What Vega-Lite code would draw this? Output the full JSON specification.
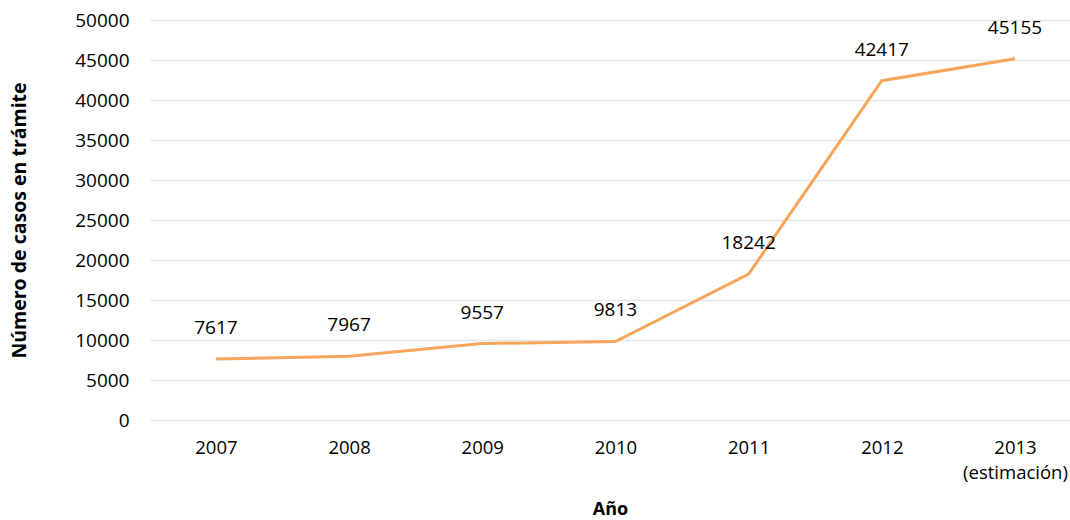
{
  "$schema": "https://vega.github.io/schema/vega-lite/v6.json",
  "autosize": {"type": "none"},
  "width": 920,
  "height": 400,
  "padding": {"left": 150, "top": 20, "right": 0, "bottom": 100},
  "background": "white",
  "config": {
    "view": {"stroke": null},
    "font": "Open Sans",
    "axis": {"labelFont": "Open Sans", "titleFont": "Open Sans", "labelColor": "#000000", "titleColor": "#000000"}
  },
  "data": {
    "values": [
      {"year": "2007", "casos": 7617},
      {"year": "2008", "casos": 7967},
      {"year": "2009", "casos": 9557},
      {"year": "2010", "casos": 9813},
      {"year": "2011", "casos": 18242},
      {"year": "2012", "casos": 42417},
      {"year": "2013", "casos": 45155}
    ]
  },
  "encoding": {
    "x": {
      "field": "year",
      "type": "ordinal",
      "sort": null,
      "scale": {"type": "point", "padding": 0.454, "align": 0.545},
      "axis": {
        "title": "Año",
        "titleFontSize": 18,
        "titleFontWeight": "bold",
        "titlePadding": 19,
        "labelAngle": 0,
        "labelFontSize": 18.5,
        "labelPadding": 18,
        "labelLineHeight": 25,
        "labelExpr": "datum.label == '2013' ? ['2013', '(estimación)'] : datum.label",
        "domain": false,
        "ticks": false,
        "grid": false
      }
    },
    "y": {
      "field": "casos",
      "type": "quantitative",
      "scale": {"domain": [0, 50000], "nice": false},
      "axis": {
        "title": "Número de casos en trámite",
        "titleFontSize": 19.5,
        "titleFontWeight": "bold",
        "titlePadding": 45,
        "values": [0, 5000, 10000, 15000, 20000, 25000, 30000, 35000, 40000, 45000, 50000],
        "format": "d",
        "labelFontSize": 19,
        "labelPadding": 21,
        "domain": false,
        "ticks": false,
        "grid": true,
        "gridColor": "#e6e6e6",
        "gridWidth": 1.3
      }
    }
  },
  "layer": [
    {"mark": {"type": "line", "color": "#F6A55A", "strokeWidth": 3}},
    {
      "mark": {"type": "text", "dy": -31, "fontSize": 19, "color": "#000000", "font": "Open Sans"},
      "encoding": {"text": {"field": "casos", "type": "quantitative", "format": "d"}}
    }
  ]
}
